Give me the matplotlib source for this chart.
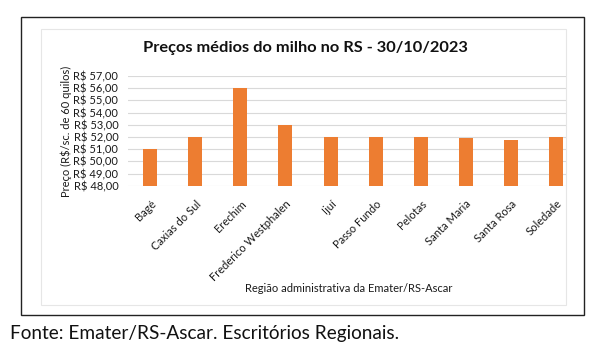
import matplotlib
matplotlib.use("Agg")
import matplotlib.pyplot as plt
from matplotlib.patches import Rectangle

regions = ["Bagé", "Caxias do Sul", "Erechim", "Frederico Westphalen", "Ijuí",
           "Passo Fundo", "Pelotas", "Santa Maria", "Santa Rosa", "Soledade"]
prices = [51.00, 52.00, 56.00, 53.00, 52.00, 52.00, 52.00, 51.92, 51.75, 52.00]
yticks = [48, 49, 50, 51, 52, 53, 54, 55, 56, 57]
ytick_labels = ["R$ 48,00", "R$ 49,00", "R$ 50,00", "R$ 51,00", "R$ 52,00",
                "R$ 53,00", "R$ 54,00", "R$ 55,00", "R$ 56,00", "R$ 57,00"]
title = "Preços médios do milho no RS - 30/10/2023"
ylabel = "Preço (R$/sc. de 60 quilos)"
xlabel = "Região administrativa da Emater/RS-Ascar"
footer = "Fonte: Emater/RS-Ascar. Escritórios Regionais."

plt.rcParams['font.family'] = ['Lato', 'DejaVu Sans']

W, H = 595, 357
fig = plt.figure(figsize=(W / 100, H / 100), dpi=100)
fig.patch.set_facecolor("white")

def fx(px):
    return px / W

def fy(py):
    return 1 - py / H

# outer frame
fig.patches.append(Rectangle((fx(21), fy(315)), fx(584) - fx(21), fy(17) - fy(315),
                             transform=fig.transFigure, fill=False, edgecolor="#222222",
                             linewidth=1.0))
# inner chart area frame
fig.patches.append(Rectangle((fx(41), fy(305)), fx(566) - fx(41), fy(29) - fy(305),
                             transform=fig.transFigure, fill=False, edgecolor="#E6E6E6",
                             linewidth=0.8))

ax = fig.add_axes([fx(128), fy(185.7), fx(566) - fx(128), fy(76) - fy(185.7)])
x = list(range(len(regions)))
ax.bar(x, prices, width=0.31, bottom=0, color="#ED7D31", zorder=3)
ax.set_ylim(48, 57)
ax.set_xlim(-0.495, 9.226)
ax.set_yticks(yticks)
ax.set_yticklabels(ytick_labels, fontsize=8, color="#1a1a1a")
ax.set_xticks(x)
ax.set_xticklabels(regions, rotation=45, ha="right", rotation_mode="anchor",
                   fontsize=8, color="#1a1a1a")
ax.tick_params(axis="both", length=0)
ax.tick_params(axis="y", pad=7)
ax.tick_params(axis="x", pad=9)
ax.grid(axis="y", color="#D9D9D9", linewidth=0.8, zorder=0)
for s in ax.spines.values():
    s.set_visible(False)

fig.text(fx(305), fy(48), title, ha="center", va="center", fontsize=11.8,
         fontweight="bold", color="#111111")
fig.text(fx(66), fy(131), ylabel, ha="center", va="center", rotation=90,
         fontsize=8, color="#1a1a1a")
fig.text(fx(349), fy(288), xlabel, ha="center", va="center", fontsize=8,
         color="#1a1a1a")
fig.text(fx(10), fy(333), footer, ha="left", va="center", fontsize=13.7,
         color="#111111")

fig.savefig("out.png", dpi=100)
